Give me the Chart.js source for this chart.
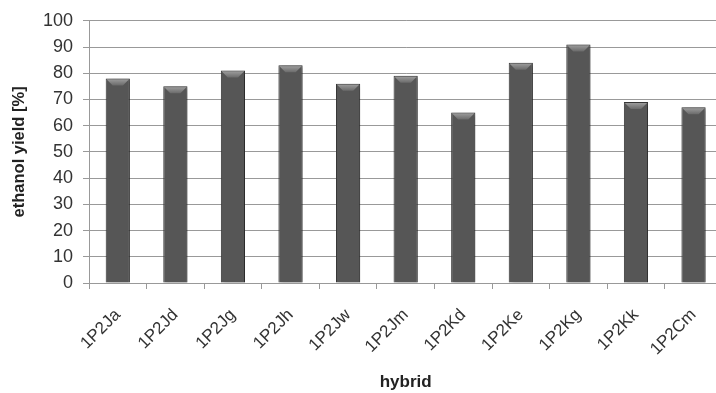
<!DOCTYPE html>
<html>
<head>
<meta charset="utf-8">
<script src="https://cdn.jsdelivr.net/npm/chart.js@4/dist/chart.umd.min.js"></script>
<style>
  html, body { margin: 0; padding: 0; background: #fff; overflow: hidden; }
  #wrap { width: 724px; height: 393px; }
</style>
</head>
<body>
<div id="wrap"><canvas id="chart"></canvas></div>
<script>
// hybrids and their ethanol yield
const hybrids = ["1P2Ja", "1P2Jd", "1P2Jg", "1P2Jh", "1P2Jw", "1P2Jm", "1P2Kd", "1P2Ke", "1P2Kg", "1P2Kk", "1P2Cm"];
const yieldPct = [78, 75, 81, 83, 76, 79, 65, 84, 91, 69, 67];

const yTitle = "ethanol yield [%]";
const xTitle = "hybrid";

// bar fill with a soft horizontal shading
function barFill(ctx) {
  const el = ctx.element;
  if (!el || el.x === undefined || !el.width) return "#565656";
  const c = ctx.chart.ctx;
  const x0 = el.x - el.width / 2, x1 = el.x + el.width / 2;
  const g = c.createLinearGradient(x0, 0, x1, 0);
  g.addColorStop(0, "#3e3e3e");
  g.addColorStop(0.2, "#525252");
  g.addColorStop(0.5, "#5c5c5c");
  g.addColorStop(0.8, "#525252");
  g.addColorStop(1, "#3e3e3e");
  return g;
}

// light bevel at the top of each bar + soft shadow
const bevel = {
  id: "bevel",
  beforeDatasetsDraw(chart) {
    const c = chart.ctx;
    c.save();
    c.shadowColor = "rgba(0,0,0,0.35)";
    c.shadowBlur = 4;
    c.shadowOffsetX = 2;
    c.shadowOffsetY = 1;
  },
  afterDatasetsDraw(chart) {
    const c = chart.ctx;
    c.restore();
    chart.getDatasetMeta(0).data.forEach((bar) => {
      const x0 = bar.x - bar.width / 2 + 1, x1 = bar.x + bar.width / 2 - 1;
      const y = bar.y + 1, h = 6;
      const g = c.createLinearGradient(0, y, 0, y + h);
      g.addColorStop(0, "#9a9a9a");
      g.addColorStop(1, "#6a6a6a");
      c.fillStyle = g;
      c.beginPath();
      c.moveTo(x0, y);
      c.lineTo(x1, y);
      c.lineTo(x1 - 6, y + h);
      c.lineTo(x0 + 6, y + h);
      c.closePath();
      c.fill();
    });
  },
};

new Chart(document.getElementById("chart").getContext("2d"), {
  type: "bar",
  data: {
    labels: hybrids,
    datasets: [{
      data: yieldPct,
      backgroundColor: barFill,
      borderColor: "#3a3a3a",
      borderWidth: 1,
      categoryPercentage: 1,
      barPercentage: 0.42,
    }],
  },
  plugins: [bevel],
  options: {
    responsive: true,
    maintainAspectRatio: false,
    animation: false,
    layout: { padding: { top: 2, left: 0, right: 1, bottom: 0 } },
    plugins: { legend: { display: false }, tooltip: { enabled: false } },
    scales: {
      x: {
        afterFit: (s) => { s.height = 110; },
        grid: { display: true, drawOnChartArea: false, offset: true, color: "#999", tickLength: 6 },
        border: { color: "#999" },
        ticks: {
          color: "#333",
          font: { family: "Liberation Sans, Arial", size: 17 },
          maxRotation: 45, minRotation: 45,
          autoSkip: false,
          padding: 16,
        },
        title: {
          display: true, text: xTitle, color: "#222",
          font: { family: "Liberation Sans, Arial", size: 17, weight: "bold" },
          padding: { top: 4, bottom: 0 },
        },
      },
      y: {
        min: 0, max: 100,
        afterFit: (s) => { s.width = 89; },
        ticks: {
          stepSize: 10, color: "#333",
          autoSkip: false,
          font: { family: "Liberation Sans, Arial", size: 18 },
          padding: 10,
        },
        grid: { color: "#999", tickLength: 6 },
        border: { color: "#999" },
        title: {
          display: true, text: yTitle, color: "#222",
          font: { family: "Liberation Sans, Arial", size: 16.5, weight: "bold" },
          padding: { top: 10, bottom: 0 },
        },
      },
    },
  },
});
</script>
</body>
</html>
